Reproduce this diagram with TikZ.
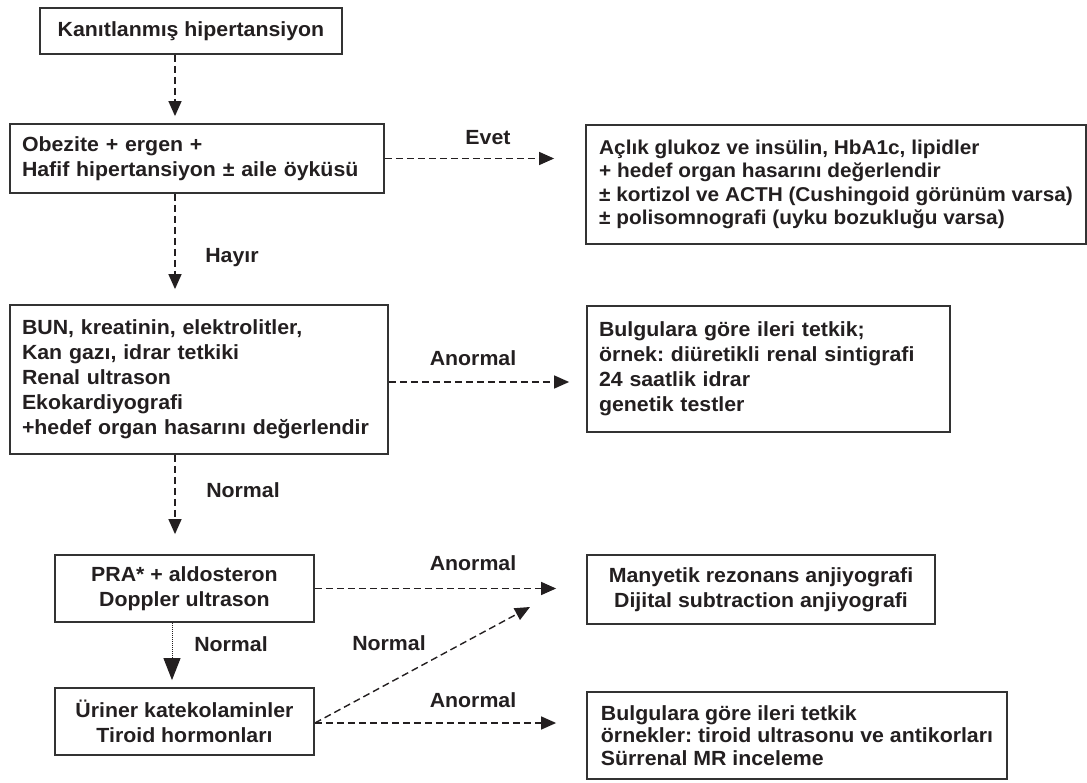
\documentclass[tikz,border=0pt]{standalone}
\usepackage{fontspec}
\setmainfont{Liberation Sans}[FakeStretch=1.04]
\usetikzlibrary{arrows.meta}
\definecolor{ink}{HTML}{231F20}
\definecolor{edge}{HTML}{333333}
\frenchspacing

\begin{document}
\begin{tikzpicture}[x=1pt, y=-1pt,
	every node/.style ={text=ink, font=\bfseries\fontsize{20.5}{25}\selectfont},
	box/.style ={shape=rectangle, draw=edge, line width=1.8pt, inner xsep=12pt, inner ysep=0pt},
	lbox/.style ={box, align=left, text width=#1-24pt},
	wbox/.style ={box, align=left, minimum width=#1},
	cbox/.style ={box, align=center, minimum width=#1},
	dashline/.style ={draw=ink, line width=1.4pt, dash pattern=on 7pt off 4pt, -{Triangle[length=15pt, width=13pt]}},
	dotline/.style ={draw=ink, line width=1pt, dash pattern=on 1pt off 1pt, -{Triangle[length=22pt, width=17pt]}}]
	\useasboundingbox (0,0) rectangle (1087,783);
	% left column
	\node[cbox=302, minimum height=46] (Kanitlanmis) at (191,31) {Kanıtlanmış hipertansiyon};
	\node[lbox=374, minimum height=69] (Obezite) at (197,158.5) {Obezite + ergen +\\Hafif hipertansiyon ± aile öyküsü};
	\node[lbox=378, minimum height=149] (BUN) at (199,379.5) {BUN, kreatinin, elektrolitler,\\Kan gazı, idrar tetkiki\\Renal ultrason\\Ekokardiyografi\\+hedef organ hasarını değerlendir};
	\node[cbox=259, minimum height=67] (PRA) at (184.5,588.5) {PRA* + aldosteron\\Doppler ultrason};
	\node[cbox=259, minimum height=67] (Uriner) at (184.5,721.5) {Üriner katekolaminler\\Tiroid hormonları};
	% right column
	\node[wbox=500, minimum height=119, font=\bfseries\fontsize{20}{23.5}\selectfont] (Aclik) at (836,184.5) {Açlık glukoz ve insülin, HbA1c, lipidler\\+ hedef organ hasarını değerlendir\\± kortizol ve ACTH (Cushingoid görünüm varsa)\\± polisomnografi (uyku bozukluğu varsa)};
	\node[lbox=363, minimum height=126] (Bulgular1) at (768.5,369) {Bulgulara göre ileri tetkik;\\örnek: diüretikli renal sintigrafi\\24 saatlik idrar\\genetik testler};
	\node[cbox=348, minimum height=69] (Manyetik) at (761,589.5) {Manyetik rezonans anjiyografi\\Dijital subtraction anjiyografi};
	\node[wbox=420, minimum height=87, font=\bfseries\fontsize{20.5}{22.5}\selectfont] (Bulgular2) at (797,735.5) {Bulgulara göre ileri tetkik\\örnekler: tiroid ultrasonu ve antikorları\\Sürrenal MR inceleme};
	\coordinate (diagtip) at (530,607);
	% connectors
	\draw[dashline, shorten >=7pt] ([xshift=-16pt]Kanitlanmis.south) -- ([xshift=-16pt]Kanitlanmis.south |- Obezite.north);
	\draw[dashline, shorten >=31pt] (Obezite.east) -- (Obezite.east -| Aclik.west);
	\draw[dashline, shorten >=15pt] ([xshift=-22pt]Obezite.south) -- ([xshift=-22pt]Obezite.south |- BUN.north);
	\draw[dashline, shorten >=17pt] ([yshift=-2.5pt]BUN.east) -- ([yshift=-2.5pt]BUN.east -| Bulgular1.west);
	\draw[dashline, shorten >=20pt] ([xshift=-24pt]BUN.south) -- ([xshift=-24pt]BUN.south |- PRA.north);
	\draw[dashline, shorten >=30pt] (PRA.east) -- (PRA.east -| Manyetik.west);
	\draw[dotline, shorten >=7pt] ([xshift=-12.5pt]PRA.south) -- ([xshift=-12.5pt]PRA.south |- Uriner.north);
	\draw[dashline] ([yshift=-1.5pt]Uriner.east) -- (diagtip);
	\draw[dashline, shorten >=30pt] ([yshift=-1.5pt]Uriner.east) -- ([yshift=-1.5pt]Uriner.east -| Bulgular2.west);
	% labels
	\node (Evet) at (488,138) {Evet};
	\node (Hayir) at (232,258) {Hayır};
	\node (Anormal1) at (473,358) {Anormal};
	\node (Normal1) at (243,490) {Normal};
	\node (Anormal2) at (473,563) {Anormal};
	\node (Normal2) at (231,644) {Normal};
	\node (Normal3) at (389,643) {Normal};
	\node (Anormal3) at (473,700) {Anormal};
\end{tikzpicture}
\end{document}
